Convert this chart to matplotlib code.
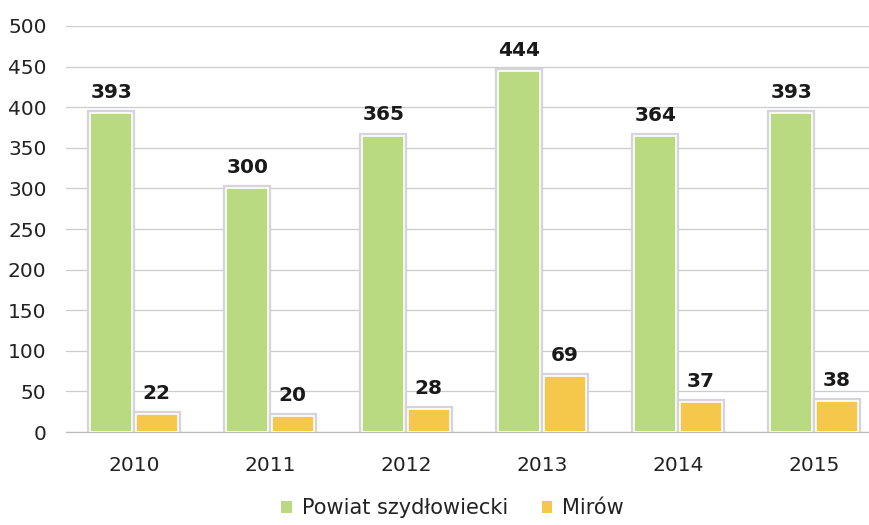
import matplotlib
matplotlib.use("Agg")
import matplotlib.pyplot as plt
import matplotlib.patheffects as pe
from matplotlib.patches import Patch
import numpy as np

years = ["2010", "2011", "2012", "2013", "2014", "2015"]
powiat = [393, 300, 365, 444, 364, 393]
mirow = [22, 20, 28, 69, 37, 38]
series_names = ["Powiat szydłowiecki", "Mirów"]
yticks = [0, 50, 100, 150, 200, 250, 300, 350, 400, 450, 500]

green = "#b9da80"
yellow = "#f5c84b"

plt.rcParams['font.family'] = ['DejaVu Sans']

fig = plt.figure(figsize=(8.69, 5.25), dpi=100)
ax = fig.add_axes([0.076, 0.177, 0.924, 0.7735])

x = np.arange(len(years))
w = 0.31
off = 0.167
shadow = [pe.Stroke(linewidth=4.5, foreground="#d6d3dc"), pe.Normal()]
b1 = ax.bar(x - off, powiat, w, color=green, edgecolor="white", linewidth=1.2, zorder=3)
b2 = ax.bar(x + off, mirow, w, color=yellow, edgecolor="white", linewidth=1.2, zorder=3)
for b in list(b1) + list(b2):
    b.set_path_effects(shadow)

for bars, vals in ((b1, powiat), (b2, mirow)):
    for b, v in zip(bars, vals):
        ax.annotate(str(v), (b.get_x() + b.get_width() / 2, v),
                    xytext=(0, 11), textcoords="offset points",
                    ha="center", va="baseline", fontsize=14.5,
                    fontweight="bold", color="#1a1a1a", zorder=4)

ax.set_xlim(-0.5, 5.404)
ax.set_ylim(0, 500)
ax.set_yticks(yticks)
ax.set_xticks(x)
ax.set_xticklabels(years)
ax.yaxis.grid(True, color="#cccccc", linewidth=0.9, zorder=0)
ax.set_axisbelow(True)
for s in ["top", "right", "left"]:
    ax.spines[s].set_visible(False)
ax.spines["bottom"].set_color("#bbbbbb")
ax.spines["bottom"].set_linewidth(0.9)
ax.tick_params(axis="y", length=0, pad=14, labelsize=14.5, labelcolor="#222222")
ax.tick_params(axis="x", length=0, pad=17, labelsize=14.5, labelcolor="#222222")

handles = [Patch(facecolor=green, edgecolor="none"), Patch(facecolor=yellow, edgecolor="none")]
fig.legend(handles, series_names, loc="center", bbox_to_anchor=(0.521, 0.032),
           ncol=2, frameon=False, fontsize=15, handlelength=0.5, handleheight=0.5,
           handletextpad=0.5, columnspacing=1.6, labelcolor="#222222")

fig.savefig("out.png", dpi=100)
